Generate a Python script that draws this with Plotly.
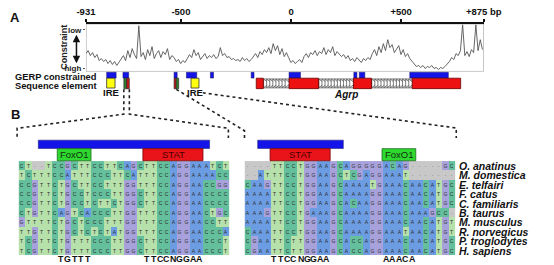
import numpy as np
import plotly.graph_objects as go

W, H = 554, 265
FONT = "Liberation Sans, Arial, Helvetica, sans-serif"

# ---------------- Panel A data ----------------
axis_ticks_bp = [-931, -500, 0, 500, 875]
axis_tick_labels = ["-931", "-500", "0", "+500", "+875 bp"]

constraint_bp = list(range(-931, 876, 10))
constraint_score = [
    18, 21, 16, 19,
    14, 17, 11, 13, 10, 12,
    8, 11, 7, 10, 6, 9,
    12, 16, 11, 21, 14, 23, 17, 13,
    46,
    15, 19, 12, 22, 16, 25, 13, 18, 21, 14, 20, 17, 23, 12, 16, 14,
    10, 12, 8, 11, 9, 13,
    17, 14, 22, 16, 19, 12, 15, 18, 13,
    16, 14, 17, 13, 15, 24, 16, 18, 14, 15, 12,
    13, 11, 12, 10, 14, 11, 13, 10, 12,
    15, 18, 14, 20, 17, 22, 19,
    24, 18, 28, 21, 26, 17, 23, 15, 19, 14,
    9, 11, 8, 10, 12, 9,
    15, 18, 14, 19, 17, 21, 16, 20, 18, 24, 17, 22, 19, 25, 16, 20, 18, 15, 17, 13, 16,
    11, 13, 10, 14, 12, 9, 13, 11, 14, 12,
    18, 22, 16, 25, 19, 28, 21, 32, 24, 27, 19, 23, 26, 17, 22, 15, 18, 13, 10,
    7, 5, 6, 4, 6, 3, 5, 4, 6, 3, 4, 2, 4, 3, 5, 7,
    10, 14, 12, 18, 16, 21,
    47,
    16, 20, 15, 22, 19,
    47,
    21, 32, 22,
]

gerp_start = [-837, -763, -531, -475, -366, -181, -9, 285, 310, 539]
gerp_end = [-794, -737, -517, -428, -352, -168, 43, 299, 335, 714]

ire_start = [-837, -454]
ire_end = [-799, -418]

tf_start = [-759, -746, -531, -521]
tf_end = [-746, -734, -521, -510]
tf_kind = ["FoxO1", "STAT", "STAT", "FoxO1"]

exon_start = [-158, -9, 283, 550]
exon_end = [-126, 125, 365, 770]

# ---------------- Panel B data ----------------
species = ["O. anatinus", "M. domestica", "E. telfairi", "F. catus", "C. familiaris",
           "B. taurus", "M. musculus", "R. norvegicus", "P. troglodytes", "H. sapiens"]

left_seqs = [
    "CT--TCCGCTTCCTTCAGCTTCCAGGAAATCT",
    "TCTTTCCATTTCCCTTCATTTCCAGGAAAACC",
    "CCGTTCTGCTTCCTTTGGTTTCCAGGAACCGG",
    "CCGTTCTGCCTCCCTTGGCTTCCAGGAACCCC",
    "CCGTTCTGCCTCTTCTGGCTTCCAGGAACCCC",
    "CTGTTCAGTCACCCTTGGTTTCCAGGAACTGC",
    "GTTTTCTGCTCCCTTTGGTTTCCAGGAACCTT",
    "TTGTTCTGCTCTCTATGGTTTCCAGGAACCCA",
    "TCGTTCTGTTTCCCTTGGCTTCCAGGAACCCT",
    "TCGTTCTGTTTCCCTTGGCTTCCAGGAACCCT",
]
right_seqs = [
    "----TTCCTGGAAGCAGGGGGACAG-----GC",
    "--ATTTCCTGGAAGCTCGAGGAAAT-------",
    "CAAGTTCCTGGAAGCAAAATGAAACAACATGC",
    "AAAATTCCTGGAAGCAAAAGGAAACAACATGC",
    "AAAATTCCTGGAAGCACAAGGAAACAACATGC",
    "AAAGTTCCTGAAAGCAAAAGGAAACAAAGCC-",
    "AAAATTCCTGGAAGCAAAAGGAAACAACATGT",
    "CAAATTCCTGGAAGCAAAAGGAAATAACATGT",
    "CGAATTCTTGGAAGCACCAGGAAACAACATGC",
    "CGAATTCTTGGAAGCACCAGGAAACAACATGC",
]

left_motif_names = ["FoxO1", "STAT"]
left_motif_start = [6, 19]
left_motif_end = [10, 27]
left_consensus = ["TGTTT", "TTCCNGGAA"]
left_gerp = (3, 28)

right_motif_names = ["STAT", "FoxO1"]
right_motif_start = [4, 21]
right_motif_end = [12, 25]
right_consensus = ["TTCCNGGAA", "AAACA"]
right_gerp = (2, 14)

# ---------------- styling / layout helpers ----------------
X0, X1 = 80, 499          # constraint track pixel extent
BP0, BP1 = -931, 875
LEFT_GRID = (9, 231)
RIGHT_GRID = (247, 469)
GRID_Y = (162.3, 257.3)


def px(bp):
    return X0 + (bp - BP0) * (X1 - X0) / (BP1 - BP0)


def fx(p):
    return p / W


def fy(p):
    return (H - p) / H


def ann(**kw):
    d = dict(showarrow=False, xanchor="center", yanchor="middle")
    d.update(kw)
    return d


COL = {"FoxO1": "#2fd82f", "STAT": "#e8141a"}
EDGE = {"FoxO1": "#1a6b1a", "STAT": "#7a0000"}
BASE = {"A": 0, "C": 1, "G": 2, "T": 3, "-": 4}
cs = [[0, "#6c9de3"], [0.2, "#6c9de3"], [0.2, "#64bf9d"], [0.4, "#64bf9d"],
      [0.4, "#a7a2db"], [0.6, "#a7a2db"], [0.6, "#b6e1ab"], [0.8, "#b6e1ab"],
      [0.8, "#c8c8c8"], [1, "#c8c8c8"]]

fig = go.Figure()

# constraint line
fig.add_trace(go.Scatter(x=constraint_bp, y=constraint_score, mode="lines",
                         line=dict(color="#555555", width=0.9), xaxis="x", yaxis="y",
                         hoverinfo="skip"))

shapes = []
annots = []

# frame of constraint plot
shapes.append(dict(type="rect", xref="x", yref="y", x0=BP0, x1=BP1, y0=0, y1=48,
                   line=dict(color="#9a9a9a", width=1), layer="below"))

# GERP blocks
for s, e in zip(gerp_start, gerp_end):
    shapes.append(dict(type="rect", xref="x", yref="y4", x0=s, x1=e, y0=72.7, y1=78.7,
                       fillcolor="#1414e8", line=dict(color="#101060", width=0.5)))
# IRE
for s, e in zip(ire_start, ire_end):
    shapes.append(dict(type="rect", xref="x", yref="y4", x0=s, x1=e, y0=78.8, y1=88.7,
                       fillcolor="#ffff10", line=dict(color="#333333", width=0.8)))
    annots.append(ann(x=(s + e) / 2, y=93.5, xref="x", yref="y4", text="<b>IRE</b>",
                      font=dict(size=9.5, family=FONT, color="#111")))
# TF small elements
for s, e, k in zip(tf_start, tf_end, tf_kind):
    shapes.append(dict(type="rect", xref="x", yref="y4", x0=s, x1=e, y0=78.8, y1=89.5,
                       fillcolor=("#2e7d2e" if k == "FoxO1" else "#c41a1a"),
                       line=dict(color="#222", width=0.6)))
# Agrp gene: introns (chevrons) then exons
for i in range(len(exon_start) - 1):
    s, e = exon_end[i], exon_start[i + 1]
    shapes.append(dict(type="rect", xref="x", yref="y4", x0=s, x1=e, y0=79.6, y1=88.5,
                       fillcolor="white", line=dict(color="#555", width=0.8), layer="below"))
    xs = np.arange(s + 10, e - 6, 14)
    fig.add_trace(go.Scatter(x=xs, y=[84] * len(xs), mode="markers", xaxis="x", yaxis="y4",
                             marker=dict(symbol="triangle-right", size=7.5, color="white",
                                         line=dict(color="#444", width=0.7)),
                             hoverinfo="skip"))
for s, e in zip(exon_start, exon_end):
    shapes.append(dict(type="rect", xref="x", yref="y4", x0=s, x1=e, y0=78.8, y1=89.3,
                       fillcolor="#ee1111", line=dict(color="#6a0000", width=0.8)))
annots.append(ann(x=250, y=95.5, xref="x", yref="y4", text="<b><i>Agrp</i></b>",
                  font=dict(size=10, family=FONT, color="#111")))

# Panel labels and track labels
annots += [
    ann(x=fx(5), y=fy(18), xref="paper", yref="paper", text="<b>A</b>",
        font=dict(size=13, family=FONT, color="#111")),
    ann(x=fx(5.5), y=fy(115), xref="paper", yref="paper", text="<b>B</b>",
        font=dict(size=13, family=FONT, color="#111")),
    ann(x=fx(56), y=fy(48), xref="paper", yref="paper", text="<b>Constraint</b>",
        textangle=-90, font=dict(size=9, family=FONT, color="#222")),
    ann(x=fx(3.5), y=fy(78), xref="paper", yref="paper", xanchor="left",
        text="<b>GERP constrained</b>", font=dict(size=9.3, family=FONT, color="#111")),
    ann(x=fx(3.5), y=fy(86.5), xref="paper", yref="paper", xanchor="left",
        text="<b>Sequence element</b>", font=dict(size=9.3, family=FONT, color="#111")),
    dict(x=fx(70), y=fy(35), xref="paper", yref="paper", ax=0, ay=30, axref="pixel",
         ayref="pixel", text="", showarrow=True, arrowhead=2, startarrowhead=2,
         arrowside="end+start", arrowsize=1, arrowwidth=1.5, arrowcolor="#111"),
]

# ---------------- Panel B ----------------
grids = [
    ("x2", "y2", left_seqs, LEFT_GRID, left_motif_names, left_motif_start, left_motif_end,
     left_consensus, left_gerp),
    ("x3", "y3", right_seqs, RIGHT_GRID, right_motif_names, right_motif_start,
     right_motif_end, right_consensus, right_gerp),
]
for xa, ya, seqs, (gx0, gx1), mnames, mst, men, cons, gerp in grids:
    z = [[BASE[c] for c in s] for s in seqs]
    txt = [[(c if c != "-" else "·") for c in s] for s in seqs]
    fig.add_trace(go.Heatmap(z=z, text=txt, texttemplate="%{text}",
                             textfont=dict(size=5, color="#2c2c2c", family=FONT),
                             colorscale=cs, zmin=0, zmax=4, showscale=False,
                             xaxis=xa, yaxis=ya, hoverinfo="skip"))
    # blue constrained bar
    shapes.append(dict(type="rect", xref=xa, yref="paper", x0=gerp[0] - 0.5, x1=gerp[1] + 0.5,
                       y0=fy(149.6), y1=fy(141.2), fillcolor="#1414e8",
                       line=dict(color="#10106a", width=0.5)))
    for name, s, e, cstr in zip(mnames, mst, men, cons):
        shapes.append(dict(type="rect", xref=xa, yref="paper", x0=s - 0.62, x1=e + 0.5,
                           y0=fy(162), y1=fy(149.8), fillcolor=COL[name],
                           line=dict(color=EDGE[name], width=0.8)))
        annots.append(ann(x=(s + e) / 2, y=fy(156), xref=xa, yref="paper", text=name,
                          font=dict(size=9.5, family=FONT,
                                    color="#103010" if name == "FoxO1" else "#4a0000")))
        for k, ch in enumerate(cstr):
            annots.append(ann(x=s + k, y=fy(260.5), xref=xa, yref="paper",
                              text="<b>%s</b>" % ch,
                              font=dict(size=8.8, family=FONT, color="#111")))

for i, sp in enumerate(species):
    annots.append(ann(x=fx(470.5), y=i, xref="paper", yref="y3", xanchor="left",
                      text="<b><i>%s</i></b>" % sp,
                      font=dict(size=10.5, family=FONT, color="#111")))


# dotted connectors
def path(points):
    return "M " + " L ".join("%.4f,%.4f" % (fx(a), fy(b)) for a, b in points)


lx0, lx1 = px(tf_start[0]), px(tf_end[1])
mx = px(tf_start[3])
rx = px(ire_end[1]) + 4
connectors = [
    [(lx0, 90), (lx0, 115), (LEFT_GRID[0] - 1.5, 129.3), (LEFT_GRID[0] - 1.5, 138.5)],
    [(lx1, 90), (lx1, 115), (LEFT_GRID[1] - 1, 129.3), (LEFT_GRID[1] - 1, 139)],
    [(mx, 90), (RIGHT_GRID[0], 131.7), (RIGHT_GRID[0], 139)],
    [(rx, 93.5), (RIGHT_GRID[1] + 1, 129), (RIGHT_GRID[1] + 1, 139)],
]
for pts in connectors:
    shapes.append(dict(type="path", xref="paper", yref="paper", path=path(pts),
                       line=dict(color="#222", width=1.6, dash="dot")))

hidden = dict(visible=False, showgrid=False, zeroline=False)
fig.update_layout(
    width=W, height=H, margin=dict(l=0, r=0, t=0, b=0),
    paper_bgcolor="white", plot_bgcolor="white", showlegend=False,
    font=dict(family=FONT),
    xaxis=dict(domain=[fx(X0), fx(X1)], range=[BP0, BP1], side="top", anchor="y",
               tickvals=axis_ticks_bp, ticktext=["<b>%s</b>" % t for t in axis_tick_labels],
               ticks="outside", ticklen=3, tickwidth=1.5, tickcolor="#111",
               showline=True, linewidth=2, linecolor="#111", showgrid=False,
               zeroline=False, tickfont=dict(size=9.5, family=FONT, color="#111")),
    yaxis=dict(domain=[fy(72), fy(24)], range=[0, 48], anchor="x",
               tickvals=[42, 3], ticktext=["<b>low</b>", "<b>high</b>"],
               ticks="outside", ticklen=2, tickcolor="#555", showline=False,
               showgrid=False, zeroline=False,
               tickfont=dict(size=8, family=FONT, color="#222")),
    yaxis4=dict(domain=[fy(100), fy(72)], range=[100, 72], anchor="x", **hidden),
    xaxis2=dict(domain=[fx(LEFT_GRID[0]), fx(LEFT_GRID[1])], range=[-0.5, 31.5],
                anchor="y2", **hidden),
    yaxis2=dict(domain=[fy(GRID_Y[1]), fy(GRID_Y[0])], range=[9.5, -0.5], anchor="x2",
                **hidden),
    xaxis3=dict(domain=[fx(RIGHT_GRID[0]), fx(RIGHT_GRID[1])], range=[-0.5, 31.5],
                anchor="y3", **hidden),
    yaxis3=dict(domain=[fy(GRID_Y[1]), fy(GRID_Y[0])], range=[9.5, -0.5], anchor="x3",
                **hidden),
    shapes=shapes, annotations=annots,
)

fig.write_html("out.html")
